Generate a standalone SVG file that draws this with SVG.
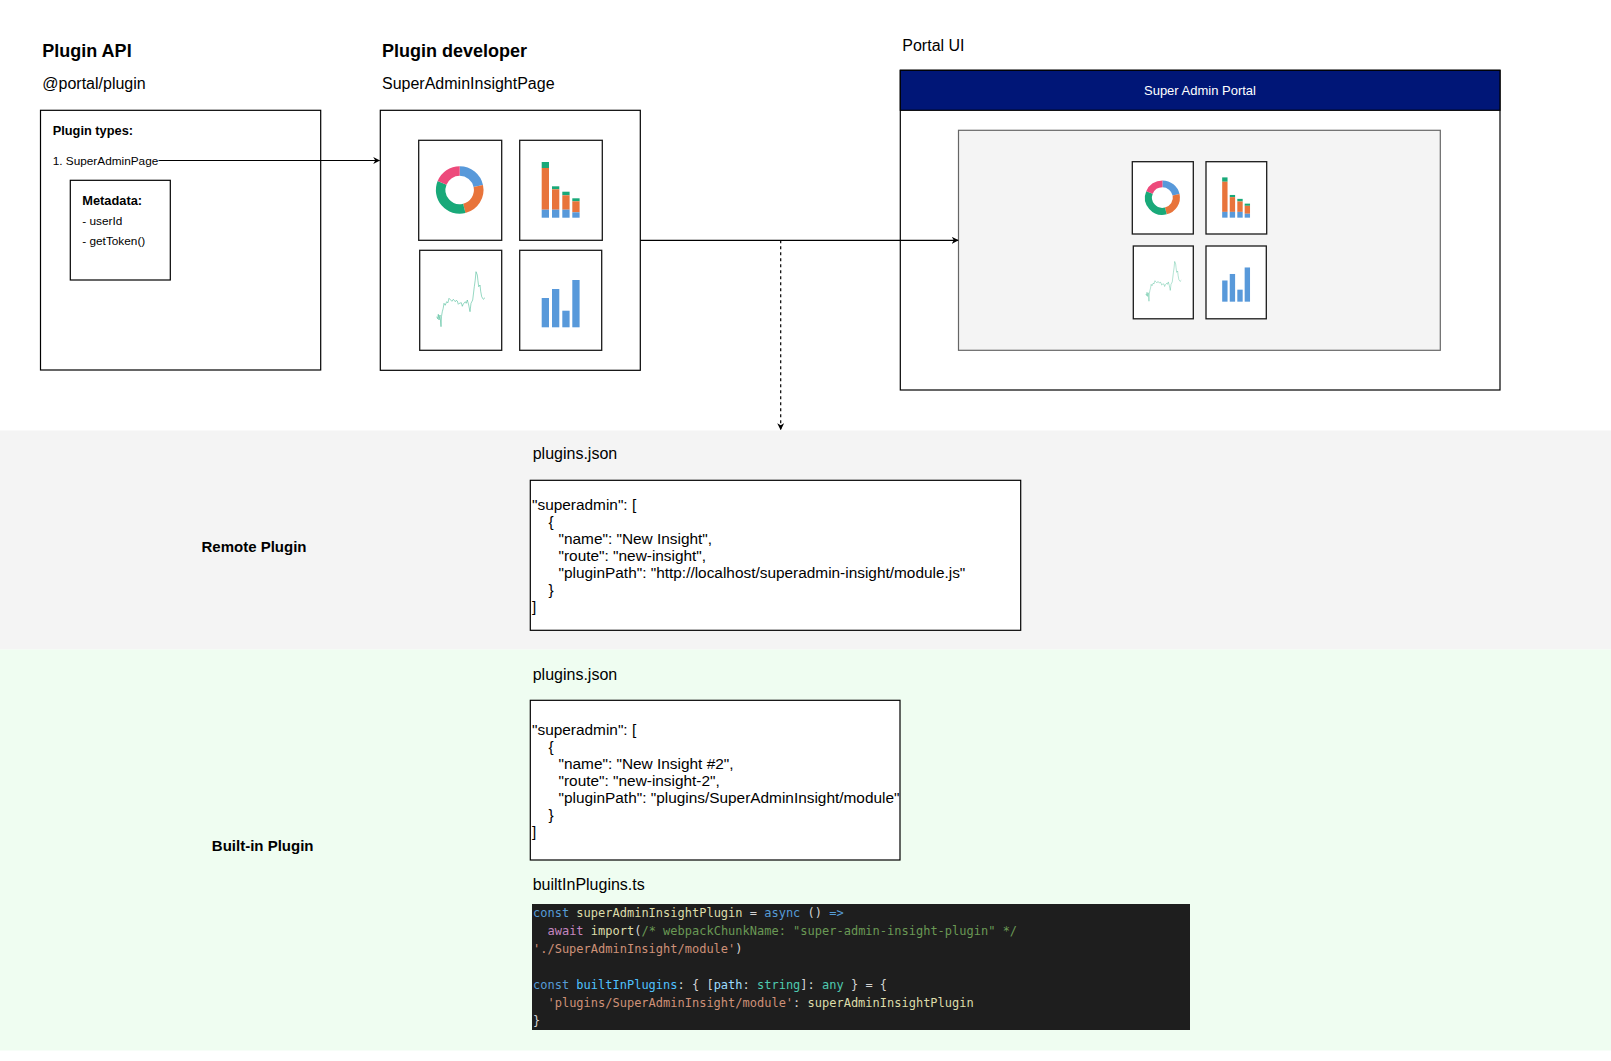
<svg xmlns="http://www.w3.org/2000/svg" width="1611" height="1061" viewBox="0 0 1611 1061">
<style>
text{font-family:"Liberation Sans",Arial,Helvetica,sans-serif;fill:#000}
.h{font-size:18px;font-weight:bold}
.s{font-size:16px}
.b13{font-size:12.8px;font-weight:bold}
.r12{font-size:11.8px}
.sec{font-size:15px;font-weight:bold}
.js{font-size:15.4px}
.box{fill:#fff;stroke:#000;stroke-width:1.2}
.cbox{fill:#fff;stroke:#1a1a1a;stroke-width:1.3}
.code{font-family:"DejaVu Sans Mono","Liberation Mono",monospace;font-size:12px;fill:#d4d4d4}
.k{fill:#569cd6}.f{fill:#dcdcaa}.c{fill:#6a9955}.st{fill:#ce9178}.p{fill:#c586c0}.v{fill:#4fc1ff}.pr{fill:#9cdcfe}.t{fill:#4ec9b0}
.conn{fill:none;stroke:#000;stroke-width:1.2}
</style>
<defs>
<marker id="arr" viewBox="0 0 10 10" refX="9" refY="5" markerWidth="7" markerHeight="7" markerUnits="userSpaceOnUse" orient="auto">
<path d="M0,0 L10,5 L0,10 L3,5 Z" fill="#000"/>
</marker>
<g id="donut" fill="none" stroke-width="9.6">
<path d="M41,30.7 A19,19 0 0 1 59.58,45.75" stroke="#5899DA"/>
<path d="M59.58,45.75 A19,19 0 0 1 45.6,68.14" stroke="#E8743B"/>
<path d="M45.6,68.14 A19,19 0 0 1 23.38,42.58" stroke="#19A979"/>
<path d="M23.38,42.58 A19,19 0 0 1 41,30.7" stroke="#ED4A7B"/>
</g>
<g id="stack">
<rect x="22" y="21.7" width="7.3" height="6" fill="#19A979"/>
<rect x="22" y="27.7" width="7.3" height="41.7" fill="#E8743B"/>
<rect x="22" y="69.4" width="7.3" height="8" fill="#5899DA"/>
<rect x="32.3" y="46" width="7.3" height="3" fill="#19A979"/>
<rect x="32.3" y="49" width="7.3" height="20.4" fill="#E8743B"/>
<rect x="32.3" y="69.4" width="7.3" height="8" fill="#5899DA"/>
<rect x="42.6" y="51.4" width="7.3" height="3.6" fill="#19A979"/>
<rect x="42.6" y="55" width="7.3" height="14.4" fill="#E8743B"/>
<rect x="42.6" y="69.4" width="7.3" height="8" fill="#5899DA"/>
<rect x="52.6" y="58" width="7.3" height="3" fill="#19A979"/>
<rect x="52.6" y="61" width="7.3" height="11" fill="#E8743B"/>
<rect x="52.6" y="72" width="7.3" height="5.4" fill="#5899DA"/>
</g>
<g id="line">
<polyline fill="none" stroke="#19A979" stroke-opacity="0.45" stroke-width="1" points="17,66.4 18,68.5 18.6,64 19.3,69.7 20.3,64.7 21.3,76.4 21.8,66 22.6,61.4 23.5,58 24.3,53 25.5,55 27,51.4 28.2,52.5 29.3,48 31,49.7 32.2,51 33.6,49 35.6,51.4 36.5,50 37.6,50.7 38.6,54 39.6,53 41.6,52.4 42.6,56 43.6,53.7 45.6,51.4 46.5,53 47.6,49.7 49,54.7 50.3,61.4 51.3,53 53,49.7 54.6,36.4 55.5,30 56.3,21.4 57.6,24.7 58.2,30 59,36.4 60.3,34.7 61,41 62,46.4 63.6,49 65.3,47.4"/>
</g>
<g id="bars" fill="#5899DA">
<rect x="22" y="47.7" width="7.3" height="29.3"/>
<rect x="32.3" y="38.7" width="7.3" height="38.3"/>
<rect x="42.6" y="60.4" width="7.3" height="16.6"/>
<rect x="52.6" y="29.7" width="7.3" height="47.3"/>
</g>
</defs>

<rect width="1611" height="1061" fill="#fff"/>

<g id="section-remote">
<rect x="0" y="430.5" width="1611" height="219" fill="#f4f4f4"/>
<text class="sec" x="254" y="551.7" text-anchor="middle">Remote Plugin</text>
</g>
<g id="section-builtin">
<rect x="0" y="649.5" width="1611" height="401" fill="#effdf1"/>
<text class="sec" x="262.7" y="850.7" text-anchor="middle">Built-in Plugin</text>
</g>

<g id="plugin-api">
<text class="h" x="42.3" y="56.7">Plugin API</text>
<text class="s" x="42.3" y="89">@portal/plugin</text>
<rect class="box" x="40.5" y="110.3" width="280.2" height="259.7"/>
<text class="b13" x="52.7" y="134.8">Plugin types:</text>
<text class="r12" x="52.7" y="164.5">1. SuperAdminPage</text>
</g>
<g id="metadata">
<rect class="box" x="70.3" y="180.3" width="100" height="99.7"/>
<text class="b13" x="82.3" y="205">Metadata:</text>
<text class="r12" x="82.3" y="225">- userId</text>
<text class="r12" x="82.3" y="245">- getToken()</text>
</g>

<g id="plugin-developer">
<text class="h" x="382" y="56.7">Plugin developer</text>
<text class="s" x="382" y="89">SuperAdminInsightPage</text>
<rect class="box" x="380.3" y="110.3" width="260" height="260"/>
<rect class="cbox" x="418.7" y="140.3" width="83" height="100"/>
<use href="#donut" transform="translate(418.7,140.3)"/>
<rect class="cbox" x="519.7" y="140.3" width="82.6" height="100"/>
<use href="#stack" transform="translate(519.7,140.3)"/>
<rect class="cbox" x="419.7" y="250.3" width="82" height="100"/>
<use href="#line" transform="translate(419.7,250.3)"/>
<rect class="cbox" x="519.7" y="250.3" width="82" height="100"/>
<use href="#bars" transform="translate(519.7,250.3)"/>
</g>

<g id="portal-ui">
<text class="s" x="902.3" y="50.7">Portal UI</text>
<rect class="box" x="900.3" y="70.3" width="599.7" height="319.7"/>
<rect x="900.3" y="70.3" width="599.7" height="40" fill="#001677" stroke="#000" stroke-width="1.2"/>
<text x="1200" y="95" text-anchor="middle" style="font-size:13px;fill:#fff">Super Admin Portal</text>
</g>
<g id="portal-content">
<rect x="958.5" y="130.3" width="481.8" height="220" fill="#f4f4f4" stroke="#666" stroke-width="1.2"/>
<rect class="cbox" x="1132.3" y="161.7" width="61" height="72.3"/>
<use href="#donut" transform="translate(1132.3,161.7) scale(0.735,0.723)"/>
<rect class="cbox" x="1206" y="161.7" width="60.7" height="72.3"/>
<use href="#stack" transform="translate(1206,161.7) scale(0.735,0.723)"/>
<rect class="cbox" x="1133.3" y="246" width="60" height="72.8"/>
<use href="#line" transform="translate(1133.3,246) scale(0.735,0.723)"/>
<rect class="cbox" x="1206" y="246" width="60.3" height="72.8"/>
<use href="#bars" transform="translate(1206,246) scale(0.735,0.723)"/>
</g>

<g id="remote-plugins-json">
<text class="s" x="532.7" y="459">plugins.json</text>
<rect class="box" x="530.3" y="480.3" width="490.4" height="150"/>
<text class="js" x="532" y="509.5">"superadmin": [</text>
<text class="js" x="548.5" y="526.5">{</text>
<text class="js" x="558.5" y="543.5">"name": "New Insight",</text>
<text class="js" x="558.5" y="560.5">"route": "new-insight",</text>
<text class="js" x="558.5" y="577.5">"pluginPath": "http://localhost/superadmin-insight/module.js"</text>
<text class="js" x="548.5" y="594.5">}</text>
<text class="js" x="532" y="611.5">]</text>
</g>

<g id="builtin-plugins-json">
<text class="s" x="532.7" y="679.5">plugins.json</text>
<rect class="box" x="530.3" y="700.3" width="369.7" height="159.7"/>
<text class="js" x="532" y="734.8">"superadmin": [</text>
<text class="js" x="548.5" y="751.8">{</text>
<text class="js" x="558.5" y="768.8">"name": "New Insight #2",</text>
<text class="js" x="558.5" y="785.8">"route": "new-insight-2",</text>
<text class="js" x="558.5" y="802.8">"pluginPath": "plugins/SuperAdminInsight/module"</text>
<text class="js" x="548.5" y="819.8">}</text>
<text class="js" x="532" y="836.8">]</text>
</g>

<g id="builtin-plugins-ts">
<text class="s" x="532.7" y="889.5">builtInPlugins.ts</text>
<rect x="532" y="904" width="658" height="126" fill="#1e1e1e"/>
<text class="code" x="533" y="917" xml:space="preserve"><tspan class="k">const</tspan> <tspan class="f">superAdminInsightPlugin</tspan> = <tspan class="k">async</tspan> () <tspan class="k">=&gt;</tspan></text>
<text class="code" x="533" y="935" xml:space="preserve">  <tspan class="p">await</tspan> <tspan class="f">import</tspan>(<tspan class="c">/* webpackChunkName: "super-admin-insight-plugin" */</tspan></text>
<text class="code" x="533" y="953" xml:space="preserve"><tspan class="st">'./SuperAdminInsight/module'</tspan>)</text>
<text class="code" x="533" y="989" xml:space="preserve"><tspan class="k">const</tspan> <tspan class="v">builtInPlugins</tspan>: { [<tspan class="pr">path</tspan>: <tspan class="t">string</tspan>]: <tspan class="t">any</tspan> } = {</text>
<text class="code" x="533" y="1007" xml:space="preserve">  <tspan class="st">'plugins/SuperAdminInsight/module'</tspan>: <tspan class="f">superAdminInsightPlugin</tspan></text>
<text class="code" x="533" y="1024.5">}</text>
</g>

<g id="connectors">
<path class="conn" d="M158.5,160.5 L379.5,160.5" marker-end="url(#arr)"/>
<path class="conn" d="M640.3,240.3 L958,240.3" marker-end="url(#arr)"/>
<path class="conn" d="M780.7,240.3 L780.7,429.5" stroke-dasharray="3,3" marker-end="url(#arr)"/>
</g>
</svg>
